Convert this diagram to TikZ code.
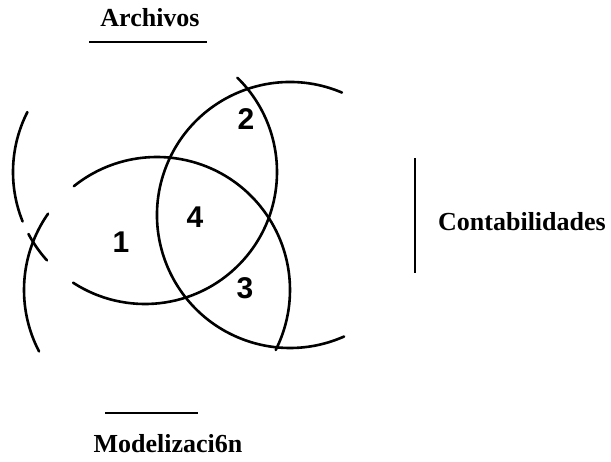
\documentclass[tikz,border=0pt]{standalone}
\usepackage{fontspec}
\setmainfont{Liberation Serif}
\newfontfamily\digitfont{Liberation Sans}
\usetikzlibrary{positioning}

\begin{document}
\begin{tikzpicture}[x=1pt,y=1pt,
    ring/.style={line width=2.6pt, line cap=round},
    rule/.style={line width=1.6pt},
    title/.style={font=\fontsize{26}{30}\selectfont\bfseries, inner sep=0pt, text depth=0pt, anchor=base},
    region/.style={font=\digitfont\fontsize{30}{34}\selectfont\bfseries, inner sep=0pt}]
\useasboundingbox (0,0) rectangle (611,-461);

% centres of the three rings
\coordinate (cA) at (290,-215);
\coordinate (cB) at (145,-172);
\coordinate (cC) at (157,-290);

% the parts of the rings that show
\draw[ring] (cA) ++(67:133) arc (67:294:133);
\draw[ring] (cB) ++(45.6:132) arc (45.6:-123:132);
\draw[ring] (cB) ++(153:132) arc (153:202:132);
\draw[ring] (cB) ++(208:132) arc (208:222:132);
\draw[ring] (cC) ++(128.7:133) arc (128.7:-26.8:133);
\draw[ring] (cC) ++(145:133) arc (145:207.5:133);

% region numbers
\node[region] (r1) at (121,-242) {1};
\node[region] (r2) at (246,-119) {2};
\node[region] (r3) at (245,-288) {3};
\node[region] (r4) at (195,-217) {4};

% titles with their rules
\node[title] (archivos) at (150,-26) {Archivos};
\coordinate (archL) at (89,-42);
\coordinate (archR) at (207,-42);
\draw[rule] (archL) -- (archR);

\node[title] (conta) at (522,-230) {Contabilidades};
\coordinate (contT) at (415,-158);
\coordinate (contB) at (415,-273);
\draw[rule] (contT) -- (contB);

\node[title] (model) at (168,-452) {Modelizaci6n};
\coordinate (modL) at (105,-413);
\coordinate (modR) at (198,-413);
\draw[rule] (modL) -- (modR);
\end{tikzpicture}
\end{document}
